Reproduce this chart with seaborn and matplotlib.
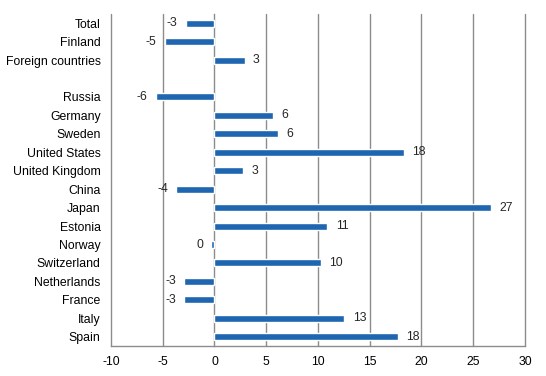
import numpy as np
import pandas as pd
import matplotlib
matplotlib.use('Agg')
import matplotlib.pyplot as plt
import seaborn as sns
from matplotlib.ticker import FixedLocator

# --- Dados ---
categories = ['Total', 'Finland', 'Foreign countries', ' ', 'Russia', 'Germany', 'Sweden',
              'United States', 'United Kingdom', 'China', 'Japan', 'Estonia', 'Norway',
              'Switzerland', 'Netherlands', 'France', 'Italy', 'Spain']
values = [-2.8, -4.8, 2.9, np.nan, -5.7, 5.7, 6.1, 18.3, 2.8, -3.7, 26.7, 10.9, -0.3,
          10.3, -2.9, -2.9, 12.55, 17.7]
x_ticks = [-10, -5, 0, 5, 10, 15, 20, 25, 30]

df = pd.DataFrame({'cat': categories, 'val': values})

sns.set_theme(style='white')
plt.rcParams['font.family'] = ['Liberation Sans', 'DejaVu Sans']
fs = 8.8
grid_col = '#8c8c8c'
bar_col = '#1f66b0'

fig = plt.figure(figsize=(5.46, 3.76), dpi=100)
ax = fig.add_axes([0.2033, 0.0798, 0.7582, 0.883])

sns.barplot(data=df, x='val', y='cat', orient='h', color=bar_col, width=0.38,
            saturation=1, ax=ax, order=categories)

ax.set_xlim(-10, 30)
ax.set_ylim(len(categories) - 0.5, -0.5)
ax.set_xlabel(None)
ax.set_ylabel(None)

# grade vertical
ax.set_xticks(x_ticks)
ax.set_xticklabels([str(t) for t in x_ticks], fontsize=fs)
for t in x_ticks:
    if t != 0:
        ax.axvline(t, color=grid_col, lw=1, zorder=0, clip_on=False)

# eixo y na linha do zero
for s in ['top', 'right']:
    ax.spines[s].set_visible(False)
ax.spines['left'].set_position(('data', 0))
ax.spines['left'].set_color(grid_col)
ax.spines['bottom'].set_color(grid_col)
ax.spines['left'].set_linewidth(1)
ax.spines['bottom'].set_linewidth(1)
ax.spines['left'].set_zorder(0.5)

ax.tick_params(axis='y', which='major', length=0, pad=82, labelsize=fs, colors='black')
ax.yaxis.set_minor_locator(FixedLocator(np.arange(-0.5, len(categories) - 1, 1)))
ax.tick_params(axis='y', which='minor', length=4, direction='out', color=grid_col, width=1)
ax.tick_params(axis='x', which='major', length=3, direction='out', color=grid_col, width=1,
               pad=4, labelsize=fs, colors='black')

# rótulos de valor
for i, v in enumerate(values):
    if np.isnan(v):
        continue
    txt = f'{round(v):.0f}'
    if txt == '-0':
        txt = '0'
    if v < 0:
        ax.annotate(txt, (v, i), xytext=(-6, 0), textcoords='offset points',
                    ha='right', va='center', fontsize=fs)
    else:
        ax.annotate(txt, (v, i), xytext=(6, 0), textcoords='offset points',
                    ha='left', va='center', fontsize=fs)

fig.savefig('out.png', dpi=100)
